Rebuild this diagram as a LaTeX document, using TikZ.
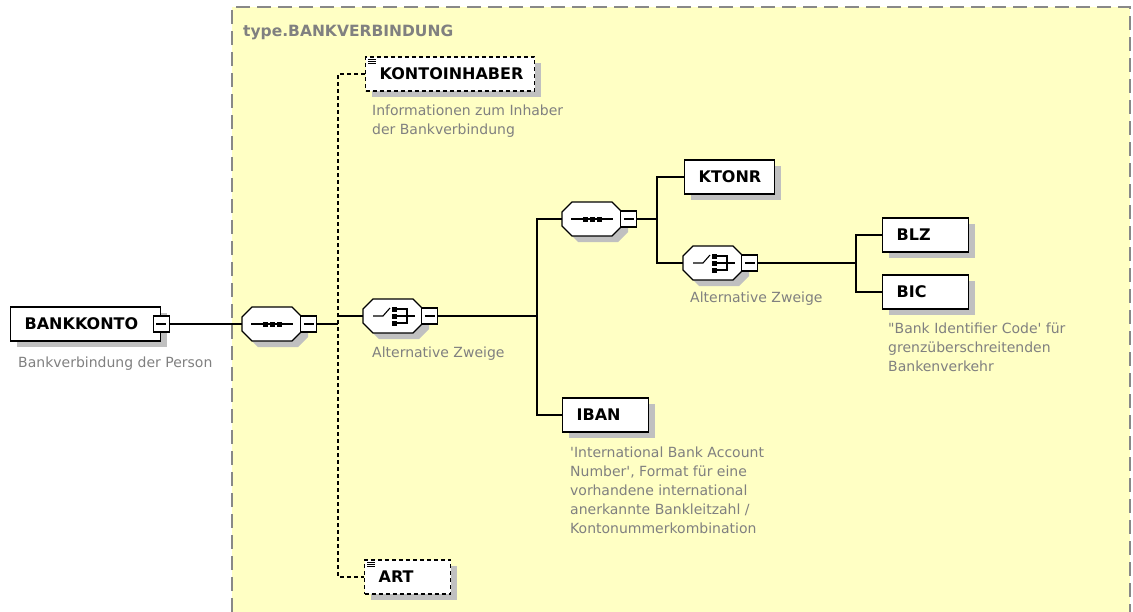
\documentclass[tikz,border=0pt]{standalone}
\usepackage{fontspec}
\setmainfont{DejaVu Sans}
\usetikzlibrary{positioning, shadows}
\definecolor{typebg}{HTML}{FFFFC4}
\definecolor{framegray}{HTML}{888888}
\definecolor{notegray}{HTML}{808080}
\definecolor{shadowgray}{HTML}{C0C0C0}

\begin{document}
\begin{tikzpicture}[
    x=1pt, y=-1pt,
    conn/.style={line width=1.3pt},
    optconn/.style={line width=1.3pt, dash pattern=on 4pt off 3pt},
    elem/.style={rectangle, draw, line width=1.3pt, fill=white, text width=#1, inner xsep=14pt, minimum height=34pt, align=left, font=\bfseries\fontsize{16}{19}\selectfont, drop shadow={shadow xshift=6pt, shadow yshift=-6pt, fill=shadowgray, opacity=1}},
    optelem/.style={elem=#1, dash pattern=on 4pt off 3pt},
    comp/.style={rectangle, minimum width=60pt, minimum height=34pt, inner sep=0pt},
    minusbox/.style={rectangle, draw, line width=1.1pt, fill=white, minimum size=16pt, inner sep=0pt, path picture={\draw[line width=1.1pt] ([xshift=3pt]path picture bounding box.west) -- ([xshift=-3pt]path picture bounding box.east);}},
    note/.style={anchor=base west, inner sep=0pt, align=left, text=notegray, font=\fontsize{14}{19}\selectfont},
    octagon/.pic={
        \fill[shadowgray, shift={(6,6)}] (-20,-17) -- (20,-17) -- (30,-7) -- (30,7) -- (20,17) -- (-20,17) -- (-30,7) -- (-30,-7) -- cycle;
        \draw[line width=1.3pt, fill=white] (-20,-17) -- (20,-17) -- (30,-7) -- (30,7) -- (20,17) -- (-20,17) -- (-30,7) -- (-30,-7) -- cycle;
    },
    seqsym/.pic={
        \pic {octagon};
        \draw[line width=1.1pt] (-21,0) -- (21,0);
        \foreach \dx in {-7,0,7} \fill (\dx-2.5,-2.5) rectangle (\dx+2.5,2.5);
    },
    choicesym/.pic={
        \pic {octagon};
        \draw[line width=1.1pt] (-20,0) -- (-10,0) -- (-3,-8);
        \draw[line width=1.1pt] (1,-7) -- (14,-7) -- (14,7) -- (1,7) (1,0) -- (22,0);
        \foreach \dy in {-7,0,7} \fill (-1,\dy-2.5) rectangle (4,\dy+2.5);
    },
]

\useasboundingbox (0,0) rectangle (1133,611);

% complex type frame
\fill[typebg] (232,7) rectangle (1130,612);
\draw[framegray, line width=1.5pt, dash pattern=on 14pt off 7pt] (232,612) -- (232,7) -- (1130,7) -- (1130,612);
\node[anchor=base west, inner sep=0pt, text=notegray, font=\bfseries\fontsize{15.5}{18}\selectfont] (typename) at (243,36) {type.BANKVERBINDUNG};

% elements and compositors
\node[elem=122, anchor=west] (bankkonto) at (10,324) {BANKKONTO};
\node[minusbox] (bankkontom) at (bankkonto.east) {};

\node[comp] (seq1) at (272,324) {};
\pic at (seq1) {seqsym};
\node[minusbox, right=-2pt of seq1] (seq1m) {};

\node[optelem=141, anchor=west] (kontoinhaber) at (365,74) {KONTOINHABER};
\node[optelem=58, anchor=west] (art) at (364,577) {ART};
\foreach \n in {kontoinhaber, art}
    \foreach \d in {3,5,7}
        \draw[line width=0.8pt] ([xshift=3pt, yshift=-\d pt]\n.north west) -- ++(8,0);

\node[comp] (choice1) at (393,316) {};
\pic at (choice1) {choicesym};
\node[minusbox, right=-2pt of choice1] (choice1m) {};

\node[comp] (seq2) at (592,219) {};
\pic at (seq2) {seqsym};
\node[minusbox, right=-2pt of seq2] (seq2m) {};

\node[elem=62, anchor=west] (ktonr) at (684,177) {KTONR};

\node[comp] (choice2) at (713,263) {};
\pic at (choice2) {choicesym};
\node[minusbox, right=-2pt of choice2] (choice2m) {};

\node[elem=58, anchor=west] (blz) at (882,235) {BLZ};
\node[elem=58, anchor=west] (bic) at (882,292) {BIC};
\node[elem=58, anchor=west] (iban) at (562,415) {IBAN};

% annotations (base = last line)
\node[note] (bankkontonote) at (18,367) {Bankverbindung der Person};
\node[note] (kontoinhabernote) at (372,134) {Informationen zum Inhaber\\der Bankverbindung};
\node[note] (choice1note) at (372,357) {Alternative Zweige};
\node[note] (choice2note) at (690,302) {Alternative Zweige};
\node[note] (ibannote) at (570,533) {\textquotesingle International Bank Account\\Number\textquotesingle, Format für eine\\vorhandene international\\anerkannte Bankleitzahl /\\Kontonummerkombination};
\node[note] (bicnote) at (888,371) {\textquotedbl Bank Identifier Code\textquotesingle{} für\\grenzüberschreitenden\\Bankenverkehr};

% connectors
\coordinate (j1) at (338,316);
\coordinate (j2) at (537,316);
\coordinate (j3) at (657,219);
\coordinate (j4) at (856,263);

\draw[conn] (bankkontom) -- (seq1);
\draw[conn] (seq1m.east) -- (seq1m.east -| j1);
\draw[optconn] (kontoinhaber.west) -| (j1) |- (art.west);
\draw[conn] (j1) -- (choice1);
\draw[conn] (choice1m.east) -- (j2);
\draw[conn] (seq2.west) -| (j2) |- (iban.west);
\draw[conn] (seq2m.east) -- (j3);
\draw[conn] (ktonr.west) -| (j3) |- (choice2.west);
\draw[conn] (choice2m.east) -- (j4);
\draw[conn] (blz.west) -| (j4) |- (bic.west);

\end{tikzpicture}
\end{document}
